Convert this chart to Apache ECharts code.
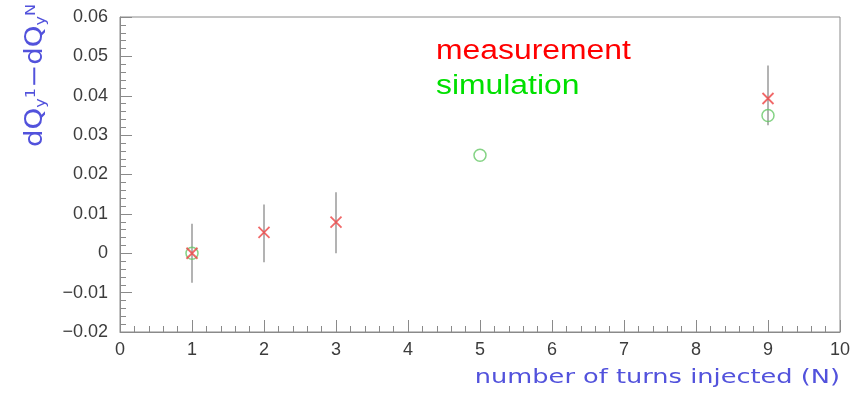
<!DOCTYPE html>
<html>
<head>
<meta charset="utf-8">
<script src="https://cdn.jsdelivr.net/npm/echarts@6/dist/echarts.min.js"></script>
<style>
  html, body { margin: 0; padding: 0; background: #fff; }
  #chart { width: 857px; height: 395px; }
</style>
</head>
<body>
<div id="chart"></div>
<script>
// measurement points with error bars
const measX = [1, 2, 3, 9];
const measY = [0, 0.0053, 0.0079, 0.0393];
const measErrUp = [0.0075, 0.0071, 0.0076, 0.0084];
const measErrDown = [0.0075, 0.0076, 0.0079, 0.0068];

// simulation points
const simX = [1, 5, 9];
const simY = [0, 0.0249, 0.035];

const xTicks = [0, 1, 2, 3, 4, 5, 6, 7, 8, 9, 10];
const yMin = -0.02;
const yMax = 0.06;

const axisGray = "#8a8a8a";
const labelColor = "#3c3c3c";
const blue = "#5252dc";

const chart = echarts.init(document.getElementById("chart"));

const option = {
  animation: false,
  grid: {
    left: 120,
    right: 17,
    top: 17,
    bottom: 63,
    containLabel: false,
    show: true,
    borderColor: axisGray,
    borderWidth: 1,
  },
  xAxis: {
    type: "value",
    min: xTicks[0],
    max: xTicks[xTicks.length - 1],
    interval: 1,
    axisLine: { show: true, onZero: false, lineStyle: { color: axisGray, width: 1 } },
    axisTick: { show: true, inside: true, length: 12, lineStyle: { color: axisGray } },
    minorTick: { show: true, splitNumber: 5, length: 6, lineStyle: { color: axisGray } },
    splitLine: { show: false },
    axisLabel: {
      color: labelColor,
      fontFamily: "Liberation Sans",
      fontSize: 18,
      margin: 9,
    },
  },
  yAxis: {
    type: "value",
    min: yMin,
    max: yMax,
    interval: 0.01,
    axisLine: { show: true, onZero: false, lineStyle: { color: axisGray, width: 1 } },
    axisTick: { show: true, inside: true, length: 12, lineStyle: { color: axisGray } },
    minorTick: { show: true, splitNumber: 5, length: 6, lineStyle: { color: axisGray } },
    splitLine: { show: false },
    axisLabel: {
      color: labelColor,
      fontFamily: "Liberation Sans",
      fontSize: 18,
      margin: 12,
      formatter: function (v) {
        if (Math.abs(v) < 1e-9) return "0";
        const s = Math.abs(v).toFixed(2);
        return v < 0 ? "\u2212" + s : s;
      },
    },
  },
  graphic: [
    {
      type: "text",
      x: 436,
      y: 52,
      scaleX: 1.18,
      style: {
        text: "measurement",
        fill: "#ff0000",
        font: "27px 'Liberation Sans'",
        verticalAlign: "middle",
      },
    },
    {
      type: "text",
      x: 436,
      y: 87,
      scaleX: 1.18,
      style: {
        text: "simulation",
        fill: "#00e000",
        font: "27px 'Liberation Sans'",
        verticalAlign: "middle",
      },
    },
    {
      type: "text",
      x: 840,
      y: 378,
      scaleX: 1.35,
      style: {
        text: "number of turns injected (N)",
        fill: blue,
        font: "19px 'DejaVu Sans'",
        align: "right",
        verticalAlign: "middle",
      },
    },
    {
      type: "text",
      x: 24,
      y: 4,
      rotation: Math.PI / 2,
      scaleX: 1.15,
      style: {
        text: "dQ{s|y}{p|1}\u2212dQ{s|y}{p|N}",
        fill: blue,
        font: "24px 'DejaVu Sans'",
        align: "right",
        verticalAlign: "top",
        rich: {
          s: { fill: blue, fontSize: 14, fontFamily: "DejaVu Sans", verticalAlign: "bottom", padding: [9, 0, 0, 0] },
          p: { fill: blue, fontSize: 14, fontFamily: "DejaVu Sans", verticalAlign: "top", padding: [0, 0, 9, 0] },
        },
      },
    },
  ],
  series: [
    {
      name: "measurement error",
      type: "custom",
      z: 2,
      data: measX.map((x, i) => [x, measY[i] - measErrDown[i], measY[i] + measErrUp[i]]),
      renderItem: function (params, api) {
        const lo = api.coord([api.value(0), api.value(1)]);
        const hi = api.coord([api.value(0), api.value(2)]);
        return {
          type: "line",
          shape: { x1: lo[0], y1: lo[1], x2: hi[0], y2: hi[1] },
          style: { stroke: "#9a9a9a", lineWidth: 1.5 },
        };
      },
    },
    {
      name: "simulation",
      type: "scatter",
      z: 3,
      symbol: "circle",
      symbolSize: 12,
      data: simX.map((x, i) => [x, simY[i]]),
      itemStyle: { color: "rgba(0,0,0,0)", borderColor: "#66c866", borderWidth: 1.5 },
    },
    {
      name: "measurement",
      type: "scatter",
      z: 4,
      symbol: "path://M0,0L10,10M10,0L0,10",
      symbolSize: 11,
      data: measX.map((x, i) => [x, measY[i]]),
      itemStyle: { color: "rgba(0,0,0,0)", borderColor: "#ee4444", borderWidth: 1.8 },
    },
  ],
};

chart.setOption(option);
</script>
</body>
</html>
